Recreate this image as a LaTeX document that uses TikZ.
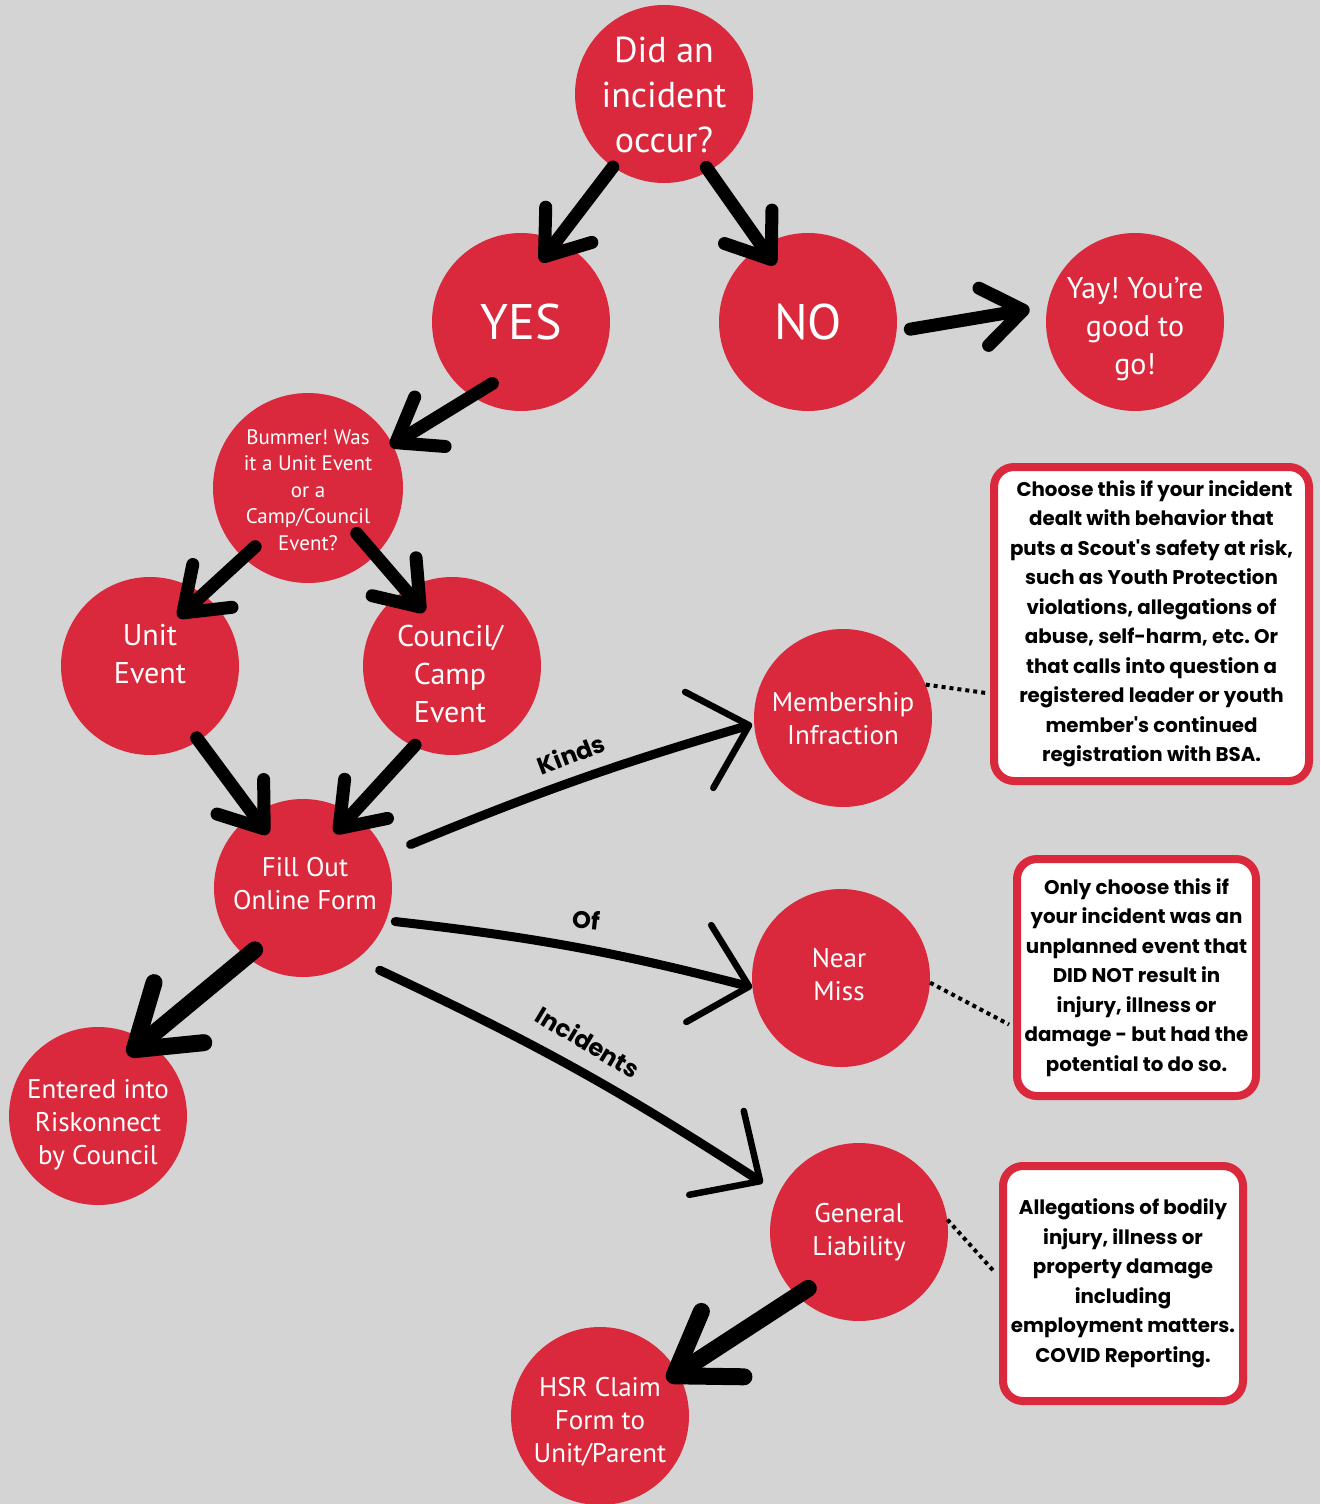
\documentclass[tikz,border=0pt]{standalone}
\usepackage{fontspec}
\setmainfont{PT Sans}
\newfontfamily\boxfont{Poppins}
\usetikzlibrary{arrows.meta,calc}
\definecolor{bsared}{RGB}{218,41,60}
\definecolor{bggray}{RGB}{212,212,212}
\begin{document}
\frenchspacing
\begin{tikzpicture}[x=1pt,y=-1pt,
  bubble/.style={circle,fill=bsared,minimum size=178pt,inner sep=0pt},
  btext/.style={text=white,align=center,inner sep=0pt},
  infobox/.style={rectangle,draw=bsared,line width=8pt,fill=white,rounded corners=20pt,
    inner sep=0pt,align=center,text=black,font=\boxfont\bfseries\fontsize{19.8}{29.5}\selectfont},
  bigarrow/.style={line width=13pt,line cap=round,-{Straight Barb[length=40pt,width=58pt,round]}},
  hugearrow/.style={line width=17pt,line cap=round,-{Straight Barb[length=58pt,width=78pt,round]}},
  thinarrow/.style={line width=9pt,line cap=round,-{Straight Barb[length=52pt,width=100pt,line width=6.5pt,round]}},
  dotline/.style={line width=4pt,dash pattern=on 4pt off 4pt},
  lbl/.style={font=\boxfont\bfseries\fontsize{24}{28}\selectfont,text=black,inner sep=0pt}]
\fill[bggray] (0,0) rectangle (1320,1504);
\useasboundingbox (0,0) rectangle (1320,1504);

\node[bubble] (did) at (664,94) {};
\node[btext,font=\fontsize{36}{45}\selectfont] (didt) at (664,95) {Did an\\incident\\occur?};
\node[bubble] (yes) at (521,322) {};
\node[btext,font=\fontsize{50}{56}\selectfont] (yest) at (521,322) {YES};
\node[bubble] (no) at (808,322) {};
\node[btext,font=\fontsize{50}{56}\selectfont] (not) at (808,322) {NO};
\node[bubble] (yay) at (1135,322) {};
\node[btext,font=\fontsize{30}{38}\selectfont] (yayt) at (1135,329) {Yay! You’re\\good to\\go!};
\node[bubble,minimum size=190pt] (bum) at (308,488) {};
\node[btext,font=\fontsize{21}{26.5}\selectfont] (bumt) at (308,490) {Bummer! Was\\it a Unit Event\\or a\\Camp/Council\\Event?};
\node[bubble] (unit) at (150,666) {};
\node[btext,font=\fontsize{30}{38}\selectfont] (unitt) at (150,654) {Unit\\Event};
\node[bubble] (council) at (452,666) {};
\node[btext,font=\fontsize{30}{38}\selectfont] (councilt) at (450,674) {Council/\\Camp\\Event};
\node[bubble] (fill) at (303,888) {};
\node[btext,font=\fontsize{27}{33}\selectfont] (fillt) at (305,884) {Fill Out\\Online Form};
\node[bubble] (memb) at (843,718) {};
\node[btext,font=\fontsize{27}{33}\selectfont] (membt) at (843,719) {Membership\\Infraction};
\node[bubble] (near) at (841,978) {};
\node[btext,font=\fontsize{27}{33}\selectfont] (neart) at (839,975) {Near\\Miss};
\node[bubble] (gen) at (859,1232) {};
\node[btext,font=\fontsize{27}{33}\selectfont] (gent) at (859,1232) {General\\Liability};
\node[bubble] (ent) at (98,1116) {};
\node[btext,font=\fontsize{27}{33}\selectfont] (entt) at (98,1125) {Entered into\\Riskonnect\\by Council};
\node[bubble] (hsr) at (600,1416) {};
\node[btext,font=\fontsize{27}{33}\selectfont] (hsrt) at (600,1422) {HSR Claim\\Form to\\Unit/Parent};

\draw[bigarrow] (did.235) -- ($(yes.center)!0.71!(yes.72)$);
\draw[bigarrow] ($(did.center)!0.95!(did.300)$) -- ($(no.center)!0.74!(no.120)$);
\draw[bigarrow] ($(no.center)!1.15!(no.-4)$) -- ($(yay.center)!1.19!(yay.173)$);
\draw[bigarrow] ($(yes.center)!0.76!(yes.245)$) -- ($(bum.center)!0.97!(bum.27)$);
\draw[bigarrow] ($(bum.center)!0.83!(bum.228)$) -- ($(unit.center)!0.63!(unit.60)$);
\draw[bigarrow] ($(bum.center)!0.70!(bum.317)$) -- ($(council.center)!0.68!(council.117)$);
\draw[bigarrow] ($(unit.center)!0.96!(unit.303)$) -- ($(fill.center)!0.72!(fill.123)$);
\draw[bigarrow] ($(council.center)!0.98!(council.245)$) -- ($(fill.center)!0.71!(fill.60)$);
\draw[hugearrow] ($(fill.center)!0.88!(fill.232)$) -- ($(ent.center)!0.76!(ent.64)$);
\draw[hugearrow] ($(gen.center)!0.85!(gen.228)$) -- ($(hsr.center)!0.85!(hsr.28)$);
\draw[thinarrow] ($(fill.center)!1.3!(fill.22)$) to[bend left=3] ($(memb.center)!1.02!(memb.184)$);
\draw[thinarrow] ($(fill.center)!1.1!(fill.340)$) to[bend left=4] ($(near.center)!1.0!(near.186)$);
\draw[thinarrow] ($(fill.center)!1.26!(fill.313)$) to[bend left=4] ($(gen.center)!1.21!(gen.153)$);

\node[lbl,rotate=21] (kinds) at (571,754) {Kinds};
\node[lbl,rotate=-6] (of) at (586,920) {Of};
\node[lbl,rotate=-31] (inc) at (588,1042) {Incidents};

\node[infobox,minimum width=315pt,minimum height=314pt] (box1) at (1151.5,624) {\hspace*{6pt}Choose this if your incident\\dealt with behavior that\\puts a Scout's safety at risk,\\such as Youth Protection\\violations, allegations of\\abuse, self-harm, etc. Or\\that calls into question a\\registered leader or youth\\member's continued\\registration with BSA.};
\node[infobox,minimum width=239pt,minimum height=237pt] (box2) at (1136.5,977.5) {Only choose this if\\your incident was an\\unplanned event that\\DID NOT result in\\injury, illness or\\damage - but had the\\potential to do so.};
\node[infobox,minimum width=240pt,minimum height=235pt] (box3) at (1123,1283.5) {Allegations of bodily\\injury, illness or\\property damage\\including\\employment matters.\\COVID Reporting.};

\draw[dotline] (memb.22) -- ($(box1.west)+(-4,69)$);
\draw[dotline] (near.-3) -- ($(box2.west)+(-4,47)$);
\draw[dotline] (gen.8) -- ($(box3.west)+(-4,-11)$);
\end{tikzpicture}
\end{document}
